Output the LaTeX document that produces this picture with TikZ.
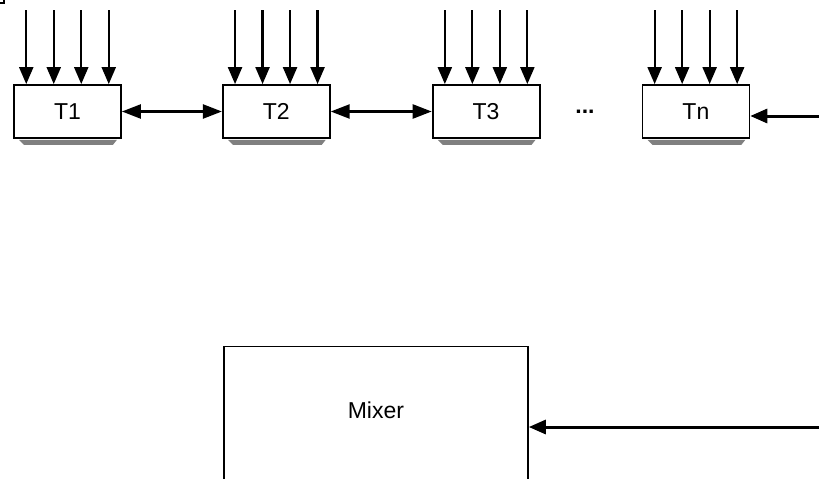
\documentclass[tikz,border=0pt]{standalone}
\usepackage{fontspec}
\setmainfont{Liberation Sans}
\usetikzlibrary{positioning,arrows.meta}

\begin{document}
\begin{tikzpicture}[
  x=1pt,y=-1pt,
  node distance=101pt,
  tbox/.style={draw,line width=1.8pt,minimum width=107pt,minimum height=53pt,inner sep=0pt,font=\fontsize{23}{27}\selectfont},
  mixbox/.style={draw,line width=1.8pt,minimum width=304pt,inner sep=0pt,text height=72pt,text depth=90pt,font=\fontsize{23}{27}\selectfont},
  inarr/.style={-{Triangle[length=17pt,width=14pt]},line width=2.2pt},
  dblarr/.style={{Triangle[length=19pt,width=14pt]}-{Triangle[length=19pt,width=14pt]},line width=2.4pt},
  feed/.style={-{Triangle[length=17pt,width=14pt]},line width=3pt},
  shade/.style={fill=black!50}
]
\useasboundingbox (0,0) rectangle (819,479);
\clip (0,0) rectangle (819,479);
% stray corner at the top left
\draw[line width=1.5pt] (0,3) -- (4,3) -- (4,0);
% the T boxes
\node[tbox] (t1) at (67.5,111.5) {T1};
\node[tbox,right=100pt of t1] (t2) {T2};
\node[tbox,right=of t2] (t3) {T3};
\node[tbox,right=of t3] (tn) {Tn};
\node[font=\fontsize{23}{27}\selectfont\bfseries,anchor=base] (dots) at (585,113) {...};
% shadows under the boxes
\foreach \b in {t1,t2,t3,tn}
  \fill[shade] ([xshift=6pt,yshift=-1pt]\b.south west) -- ([xshift=-5pt,yshift=-1pt]\b.south east)
    -- ([xshift=-9pt,yshift=-6pt]\b.south east) -- ([xshift=11pt,yshift=-6pt]\b.south west) -- cycle;
% inputs from above
\foreach \b in {t1,t2,t3,tn}
  \foreach \dx in {-41.25,-13.75,13.75,41.25}
    \draw[inarr] ([xshift=\dx pt,yshift=74pt]\b.north) -- ([xshift=\dx pt]\b.north);
\draw[dblarr] (t1) -- (t2);
\draw[dblarr] (t2) -- (t3);
\coordinate (tnin) at (830,116);
\draw[feed] (tnin) -- (tn.east |- tnin);
% mixer
\node[mixbox,anchor=north west] (mix) at (223,345.6) {Mixer};
\coordinate (mixin) at (830,427);
\draw[feed] (mixin) -- (mix.east |- mixin);
\end{tikzpicture}
\end{document}
